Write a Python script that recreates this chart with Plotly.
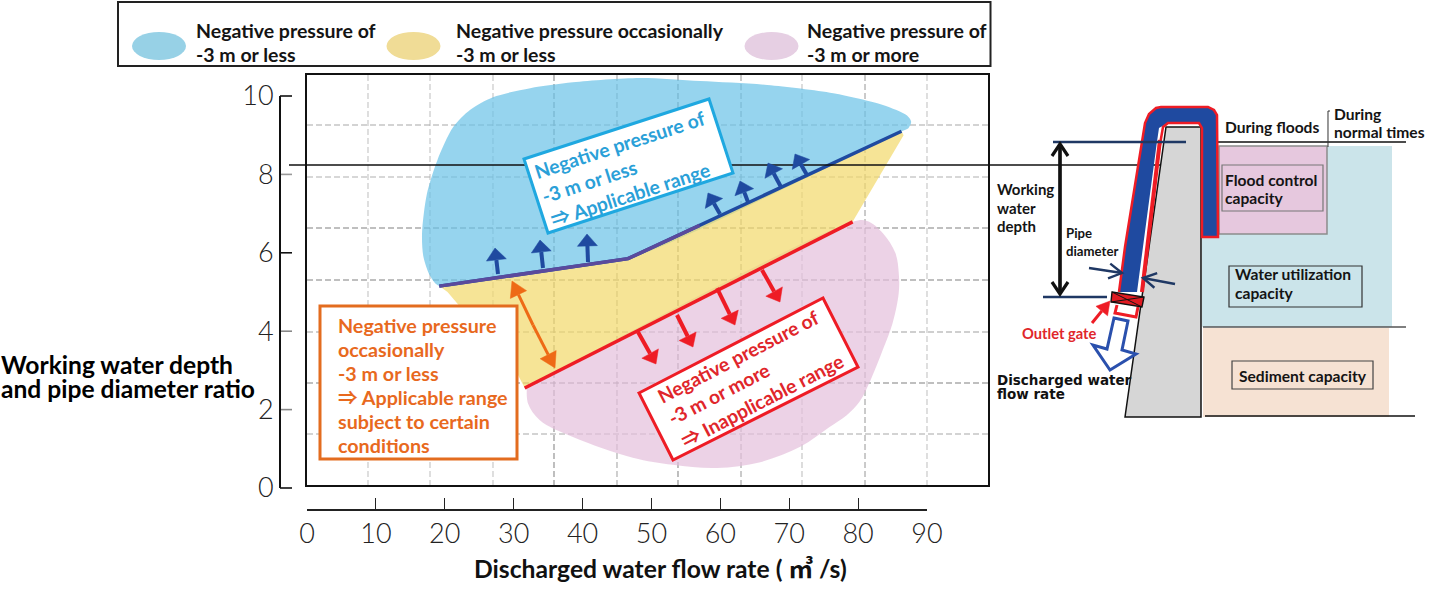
import math
import plotly.graph_objects as go

W, H = 1434, 598
# pixel geometry of the printed axes
X0_PX, X90_PX = 307.0, 927.0
Y0_PX, Y10_PX = 488.0, 96.0
SX = (X90_PX - X0_PX) / 90
SY = (Y0_PX - Y10_PX) / 10

# ---- data (flow rate m3/s, depth ratio)
x_ticks = [0, 10, 20, 30, 40, 50, 60, 70, 80, 90]
y_ticks = [0, 2, 4, 6, 8, 10]
y_tick_colors = ["#111111", "#888888", "#888888", "#111111", "#999999", "#111111"]

upper_limit_x = [19.2, 46.6, 86.3]
upper_limit_y = [5.15, 5.85, 9.1]
upper_purple_x = [19.2, 46.6, 57.0]
upper_purple_y = [5.15, 5.85, 6.7]
lower_limit_x = [31.6, 79.2]
lower_limit_y = [2.55, 6.79]

blue_x = [19.2, 17.9, 16.9, 16.7, 17.4, 18.9, 21.2, 23.7, 27.0, 32.4, 38.6, 48.3, 57.1, 66.8, 76.4, 83.6, 87.1, 87.7, 87.3, 86.3, 70.0, 46.6, 30.0, 19.2]
blue_y = [5.15, 5.4, 5.9, 6.5, 7.5, 8.35, 9.2, 9.65, 9.97, 10.2, 10.35, 10.46, 10.38, 10.28, 10.07, 9.77, 9.5, 9.34, 9.18, 9.1, 7.7, 5.85, 5.45, 5.15]

yellow_x = [19.2, 20.4, 22.0, 25.1, 30.5, 31.6, 79.2, 86.6, 86.3, 46.6]
yellow_y = [5.15, 5.0, 4.67, 4.15, 2.93, 2.55, 6.79, 9.0, 9.1, 5.85]

pink_x = [31.6, 79.2, 81.3, 83.6, 85.4, 85.9, 85.9, 85.0, 83.6, 81.8, 80.2, 78.3, 75.8, 71.6, 65.8, 59.5, 53.1, 47.3, 38.6, 33.8, 32.1, 31.9]
pink_y = [2.55, 6.79, 6.81, 6.5, 6.0, 5.48, 4.98, 4.2, 3.53, 2.75, 2.2, 1.85, 1.55, 1.05, 0.66, 0.51, 0.59, 0.77, 1.3, 1.73, 2.15, 2.5]

legend_labels = [["Negative pressure of", "-3 m or less"],
                 ["Negative pressure occasionally", "-3 m or less"],
                 ["Negative pressure of", "-3 m or more"]]

# ---- colours
BLUE_A = "rgba(106,194,231,0.7)"
YELLOW_A = "rgba(242,216,105,0.7)"
PINK_A = "rgba(228,191,219,0.7)"
NAVY = "#1f4aa0"
DNAVY = "#1f3864"
RED = "#ee1c25"
ORANGE = "#ee6a16"
TXT_BLUE = "#2aa0d8"
TXT_RED = "#e0262b"
TXT_OR = "#e8691e"
INK = "#141414"
FONT = "Lato, 'Noto Sans CJK JP', sans-serif"


def fx(px):
    return px / W


def fy(py):
    return 1 - py / H


def path(points, closed=True):
    s = "M " + " L ".join(f"{fx(a):.5f} {fy(b):.5f}" for a, b in points)
    return s + (" Z" if closed else "")


shapes = []


def poly(points, fill=None, line=None, width=0, closed=True, layer="above", dash=None):
    sh = dict(type="path", path=path(points, closed), xref="paper", yref="paper", layer=layer,
              fillcolor=fill if fill else "rgba(0,0,0,0)",
              line=dict(color=line if line else "rgba(0,0,0,0)", width=width))
    if dash:
        sh["line"]["dash"] = dash
    shapes.append(sh)


def seg(x0, y0, x1, y1, color, width, dash=None, layer="above"):
    poly([(x0, y0), (x1, y1)], None, color, width, False, layer, dash)


def rect(x0, y0, x1, y1, fill=None, line=None, width=0, layer="above"):
    poly([(x0, y0), (x1, y0), (x1, y1), (x0, y1)], fill, line, width, True, layer)


def head(x0, y0, x1, y1, hl, hw):
    d = math.hypot(x1 - x0, y1 - y0)
    ux, uy = (x1 - x0) / d, (y1 - y0) / d
    bx, by = x1 - ux * hl, y1 - uy * hl
    return [(x1, y1), (bx - uy * hw / 2, by + ux * hw / 2), (bx + uy * hw / 2, by - ux * hw / 2)], bx, by


def arrow(x0, y0, x1, y1, color, sw=3.5, hl=13, hw=19):
    pts, bx, by = head(x0, y0, x1, y1, hl, hw)
    seg(x0, y0, bx, by, color, sw)
    poly(pts, color, color, 0.5)


def chevron(x0, y0, x1, y1, color, sw, hl, hw):
    pts, _, _ = head(x0, y0, x1, y1, hl, hw)
    seg(x0, y0, x1, y1, color, sw)
    poly([pts[1], pts[0], pts[2]], None, color, sw, False)


anns = []


def label(text, x, y, size, color=INK, bold=True, anchor="left", angle=0, family=FONT):
    anns.append(dict(text=f"<b>{text}</b>" if bold else text, x=fx(x), y=fy(y), xref="paper", yref="paper",
                     showarrow=False, xanchor=anchor, yanchor="middle", textangle=angle,
                     font=dict(family=family, size=size, color=color), borderpad=0, borderwidth=0))


# ---- chart paper: grid + box (under the coloured regions)
GRID_DASH = "6px,3px"
for gx, c in zip([368, 430, 493, 554, 617, 678, 741, 802, 865, 927],
                 ["#c4c4c4", "#c4c4c4", "#c4c4c4", "#8a8a8a", "#a8a8a8", "#8a8a8a", "#a0a0a0", "#c0c0c0", "#a0a0a0", "#c4c4c4"]):
    seg(gx, 75, gx, 485, c, 1.1, GRID_DASH, "below")
for gy, c in zip([125, 177, 228, 280, 332, 383, 434],
                 ["#a8a8a8", "#b0b0b0", "#808080", "#808080", "#a0a0a0", "#808080", "#a8a8a8"]):
    seg(307, gy, 988, gy, c, 1.1, GRID_DASH, "below")
rect(306, 74, 989, 486, None, "#111111", 2, "below")

# y-axis tick strokes, placed through the axis scale
for v, c in zip(y_ticks, y_tick_colors):
    seg(280, Y0_PX - v * SY, 292, Y0_PX - v * SY, c, 1.6, None, "below")

# ---- legend frame
rect(118, 2, 990.5, 66, "#ffffff", "#222222", 2, "below")
for cx, col in [(159, "#97d1e6"), (413.5, "#f0dc96"), (771.5, "#e6cfe3")]:
    shapes.append(dict(type="circle", xref="paper", yref="paper", x0=fx(cx - 27), x1=fx(cx + 27), y0=fy(60), y1=fy(32),
                       fillcolor=col, line=dict(width=0), layer="below"))
for lx, lines in zip([196, 456, 807], legend_labels):
    label(lines[0], lx, 30.5, 19.5)
    label(lines[1], lx, 54.5, 19.5)

# ---- reservoir backgrounds
rect(1202, 146, 1392, 327, "#cbe4ea")
rect(1203, 328, 1389, 417, "#f6e2d3")
rect(1219, 146, 1327, 234, "#e6c8de", "#8c8c8c", 1.5)
seg(1203, 142, 1406, 142, "#111111", 1.5)
seg(1328, 111, 1328, 147, "#333333", 1)
seg(1328, 111, 1330, 111, "#333333", 1)
seg(1203, 327, 1406, 327, "#555555", 1.5)
seg(1205, 416, 1415, 416, "#111111", 1.5)
rect(1222, 165, 1323, 211, "#e6c8de", "#777777", 1.2)
rect(1229, 266, 1362, 307, "#cbe4ea", "#333333", 1.2)
rect(1232, 361, 1373, 389, "#f6e2d3", "#444444", 1.2)

# long horizontal reference line
seg(289, 165, 1163, 165, "#111111", 1.4)

# ---- dam
poly([(1125, 417), (1166, 127), (1201, 127), (1201, 417)], "#d6d6d6", "#111111", 1.5)

# ---- pipe
outer = [(1119, 292), (1125, 247), (1145, 123), (1149, 114), (1156, 108), (1161, 107), (1208, 107), (1214, 110), (1217, 115),
         (1218, 237), (1202, 237), (1202, 128), (1199, 123), (1168, 123), (1163, 127)]
poly(outer[:-1] + [(1159, 128), (1156.5, 145), (1137, 292)], NAVY)
poly(outer + [(1159, 150), (1142, 292)], None, RED, 2.5, False)
seg(1160, 140, 1142, 292, RED, 4)

# water level lines and depth dimension
seg(1053, 142, 1186, 142, DNAVY, 2.6)
seg(1043, 297, 1107, 297, DNAVY, 2.6)
chevron(1060, 144, 1060, 294, "#111111", 3.2, 12, 16)
chevron(1060, 294, 1060, 144, "#111111", 3.2, 12, 16)
# pipe diameter arrows
chevron(1089, 268, 1122, 273, DNAVY, 2.4, 13, 15)
chevron(1175, 284, 1143, 278, DNAVY, 2.4, 13, 15)

# outlet gate
poly([(1117, 305), (1115, 313), (1136, 317), (1138, 307)], "#ffffff", RED, 3, False)
gate = [(1112, 292), (1144, 297), (1142, 307), (1111, 302)]
poly(gate, "#e01b22", "#111111", 1.4)
seg(gate[0][0], gate[0][1], gate[2][0], gate[2][1], "#111111", 1)
seg(gate[1][0], gate[1][1], gate[3][0], gate[3][1], "#111111", 1)
arrow(1092, 323, 1110, 301, RED, 3, 13, 15)
poly([(1114, 318), (1128, 321), (1122, 350), (1136, 354), (1110, 370), (1093, 345), (1107, 349)], "#ffffff", "#2a50ad", 3)

# ---- coloured-region callouts
arrow_sets_up = [((498, 274), (495, 248)), ((543, 268), (540, 240)), ((588, 262), (587, 234)),
                 ((720, 214), (708, 193)), ((748, 202), (740, 181)), ((781, 187), (768, 163)), ((807, 175), (795, 154))]
for a, b in arrow_sets_up:
    arrow(a[0], a[1], b[0], b[1], NAVY, 4, 12, 20)
for a, b in [((762, 270), (780, 302)), ((717, 288), (735, 325)), ((677, 315), (693, 347)), ((638, 332), (656, 364))]:
    arrow(a[0], a[1], b[0], b[1], RED, 4, 12, 19)
arrow(533, 325, 512, 281, ORANGE, 3, 15, 18)
arrow(533, 325, 555, 368, ORANGE, 3, 15, 18)

poly([(524, 159), (709, 99), (733, 173), (548, 233)], "#ffffff", "#1fa8e0", 3)
poly([(639, 393), (823, 298), (858, 367), (673, 460)], "#ffffff", RED, 3)
rect(320, 306, 517, 459, "#ffffff", "#e36c1f", 3)

label("Negative pressure of", 620, 145, 19.3, TXT_BLUE, anchor="center", angle=-18)
label("-3 m or less", 589, 181, 19.3, TXT_BLUE, anchor="center", angle=-18)
label("⇒ Applicable range", 630, 194, 19.3, TXT_BLUE, anchor="center", angle=-18)
label("Negative pressure of", 738, 356, 19.3, TXT_RED, anchor="center", angle=-27.3)
label("-3 m or more", 719, 393, 19.3, TXT_RED, anchor="center", angle=-27.3)
label("⇒ Inapplicable range", 762, 400, 19.3, TXT_RED, anchor="center", angle=-27.3)
for t, ly in zip(["Negative pressure", "occasionally", "-3 m or less", "⇒ Applicable range", "subject to certain", "conditions"],
                 [325.5, 349.5, 373.5, 397.5, 421.5, 445.5]):
    label(t, 338, ly, 19.7, TXT_OR)

# ---- axis titles
label("Working water depth", 1, 364, 24.6, "#000000")
label("and pipe diameter ratio", 1, 388, 24.6, "#000000")
label("Discharged water flow rate ( ㎥ /s)", 474, 568, 24.7, "#111111")

# ---- diagram labels
label("During floods", 1225, 127, 15.6)
label("During", 1334, 114, 15.6)
label("normal times", 1334, 132, 15.6)
label("Flood control", 1225, 180, 15.6)
label("capacity", 1225, 198, 15.6)
label("Water utilization", 1235, 274, 15.6)
label("capacity", 1235, 293, 15.6)
label("Sediment capacity", 1239, 376, 15.6)
label("Working", 997, 189, 15)
label("water", 997, 208, 15)
label("depth", 997, 226, 15)
label("Pipe", 1066, 233, 13.2)
label("diameter", 1066, 251, 13.2)
label("Outlet gate", 1022, 333, 14.7, "#e0262b")
label("Discharged water", 997, 380, 13.5, "#111111", family="DejaVu Sans")
label("flow rate", 997, 394, 13.5, "#111111", family="DejaVu Sans")

# ---- traces
fig = go.Figure()
page = dict(xaxis="x", yaxis="y", hoverinfo="skip", showlegend=False)
no_line = dict(width=0)
fig.add_trace(go.Scatter(x=blue_x, y=blue_y, mode="lines", fill="toself", fillcolor=BLUE_A,
                         line=dict(width=0, shape="spline", smoothing=0.8), **page))
fig.add_trace(go.Scatter(x=pink_x, y=pink_y, mode="lines", fill="toself", fillcolor=PINK_A,
                         line=dict(width=0, shape="spline", smoothing=1.0), **page))
fig.add_trace(go.Scatter(x=yellow_x, y=yellow_y, mode="lines", fill="toself", fillcolor=YELLOW_A,
                         line=no_line, **page))
axes2 = dict(xaxis="x2", yaxis="y2", hoverinfo="skip", showlegend=False, mode="lines")
fig.add_trace(go.Scatter(x=upper_limit_x, y=upper_limit_y, line=dict(color=NAVY, width=3.5), **axes2))
fig.add_trace(go.Scatter(x=upper_purple_x, y=upper_purple_y, line=dict(color="#5b4a9c", width=3.5), **axes2))
fig.add_trace(go.Scatter(x=lower_limit_x, y=lower_limit_y, line=dict(color=RED, width=3.5), **axes2))

tick_font = dict(family="Lato", size=27, color="#222222", weight=300)
hidden = dict(visible=False, fixedrange=True)
fig.update_layout(
    width=W, height=H, margin=dict(l=0, r=0, t=0, b=0, pad=0, autoexpand=False), paper_bgcolor="#ffffff",
    plot_bgcolor="rgba(0,0,0,0)",
    showlegend=False, shapes=shapes, annotations=anns,
    xaxis=dict(domain=[0, 1], range=[-X0_PX / SX, (W - X0_PX) / SX], **hidden),
    yaxis=dict(domain=[0, 1], range=[(Y0_PX - H) / SY, Y0_PX / SY], **hidden),
    xaxis2=dict(domain=[fx(X0_PX), fx(X90_PX)], range=[0, 90], anchor="free", position=fy(510), side="bottom",
                tickvals=x_ticks, ticks="inside", ticklen=11, tickwidth=1.3, tickcolor="#222222",
                showline=True, linecolor="#222222", linewidth=2, showgrid=False, zeroline=False,
                tickfont=tick_font, fixedrange=True),
    yaxis2=dict(domain=[fy(Y0_PX), fy(Y10_PX)], range=[0, 10], anchor="free", position=fx(280), side="left",
                tickvals=y_ticks, ticks="", ticklen=0,
                showline=True, linecolor="#111111", linewidth=2, showgrid=False, zeroline=False,
                tickfont=tick_font, fixedrange=True),
)
fig.write_html("out.html", config={"displayModeBar": False}, post_script="document.body.style.margin='0';")
